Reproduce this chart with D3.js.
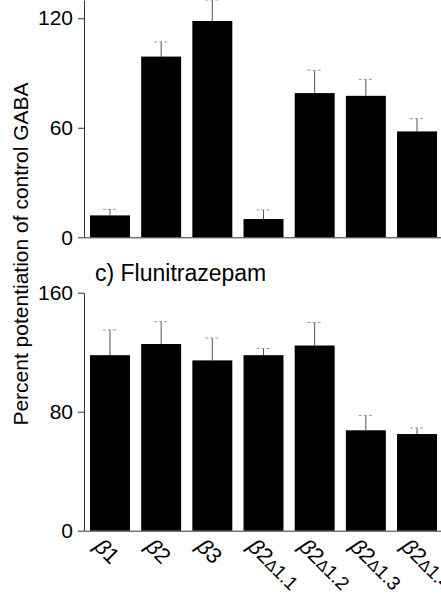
<!DOCTYPE html>
<html>
<head>
<meta charset="utf-8">
<title>Percent potentiation of control GABA</title>
<script src="https://cdn.jsdelivr.net/npm/d3@7"></script>
<style>
    body { margin: 0; background: #fff; }
    svg { display: block; font-family: "Liberation Sans", Arial, Helvetica, sans-serif; }
    .axis path, .axis line { stroke: #333; }
</style>
</head>
<body>
<div id="chart"></div>
<script>

    // receptor subunits on the x axis
    var subunits = ["β1", "β2", "β3", "β2Δ1.1", "β2Δ1.2", "β2Δ1.3", "β2Δ1.4"];

    // upper panel
    var topMeans = [12, 99, 118.5, 10, 79, 77.5, 58];
    var topErrors = [3.3, 8, 11.5, 5, 12.5, 9, 7];
    var topTicks = [0, 60, 120];

    // c) Flunitrazepam
    var fluMeans = [118, 125.5, 114.5, 118, 124.5, 67.5, 65];
    var fluErrors = [17, 15, 15, 4.5, 15.5, 10, 4];
    var fluTicks = [0, 80, 160];

    var W = 441, H = 594;

    var svg = d3.select("#chart")
        .append("svg")
        .attr("width", W)
        .attr("height", H);

    var x = d3.scaleBand()
        .domain(subunits)
        .range([84, 443])
        .paddingInner(0.219)
        .paddingOuter(0.117);

    function panel(means, errors, ticks, yScale) {
        var g = svg.append("g");

        var rows = subunits.map(function (s, i) {
            return { name: s, mean: means[i], err: errors[i] };
        });

        // error bars (drawn first so the bar covers the lower half)
        g.selectAll(".errline")
            .data(rows)
            .enter()
            .append("line")
            .attr("x1", function (d) { return x(d.name) + x.bandwidth() / 2; })
            .attr("x2", function (d) { return x(d.name) + x.bandwidth() / 2; })
            .attr("y1", function (d) { return yScale(d.mean); })
            .attr("y2", function (d) { return yScale(d.mean + d.err); })
            .attr("stroke", "#555")
            .attr("stroke-width", 1);

        g.selectAll(".errcap")
            .data(rows)
            .enter()
            .append("line")
            .attr("x1", function (d) { return x(d.name) + x.bandwidth() / 2 - 7; })
            .attr("x2", function (d) { return x(d.name) + x.bandwidth() / 2 + 7; })
            .attr("y1", function (d) { return yScale(d.mean + d.err); })
            .attr("y2", function (d) { return yScale(d.mean + d.err); })
            .attr("stroke", "#999")
            .attr("stroke-width", 1)
            .attr("stroke-dasharray", "3,2");

        g.selectAll(".bar")
            .data(rows)
            .enter()
            .append("rect")
            .attr("x", function (d) { return x(d.name); })
            .attr("width", x.bandwidth())
            .attr("y", function (d) { return yScale(d.mean); })
            .attr("height", function (d) { return yScale(0) - yScale(d.mean); })
            .attr("fill", "#000");

        // y axis
        g.append("g")
            .attr("class", "axis")
            .attr("transform", "translate(84,0)")
            .call(d3.axisLeft(yScale)
                .tickValues(ticks)
                .tickSize(6)
                .tickSizeOuter(0)
                .tickPadding(5))
            .call(function (a) {
                a.selectAll("text")
                    .style("font-size", "21px")
                    .style("font-family", "inherit")
                    .attr("fill", "#000");
            });

        // baseline
        g.append("g")
            .attr("class", "axis")
            .attr("transform", "translate(0," + yScale(0) + ")")
            .call(d3.axisBottom(x).tickSize(0).tickSizeOuter(0).tickFormat(""));

        return g;
    }

    var yTop = d3.scaleLinear().domain([0, 130]).range([237.3, 0]);
    var yFlu = d3.scaleLinear().domain([0, 160]).range([530.7, 292.7]);

    panel(topMeans, topErrors, topTicks, yTop);
    panel(fluMeans, fluErrors, fluTicks, yFlu);

    // panel title
    svg.append("text")
        .attr("x", 95)
        .attr("y", 281)
        .style("font-size", "23px")
        .text("c) Flunitrazepam");

    // shared y label
    svg.append("text")
        .attr("transform", "translate(28,254) rotate(-90)")
        .attr("text-anchor", "middle")
        .style("font-size", "21px")
        .text("Percent potentiation of control GABA");

    // rotated subunit labels: italic beta, smaller delta and suffix
    var labels = svg.append("g")
        .selectAll("text")
        .data(subunits)
        .enter()
        .append("text")
        .attr("transform", function (d) {
            var cx = x(d) + x.bandwidth() / 2 - 17;
            return "translate(" + cx + "," + (yFlu(0) + 17) + ") rotate(45)";
        })
        .style("font-size", "22px");

    labels.append("tspan")
        .style("font-style", "italic")
        .text("β");
    labels.append("tspan")
        .text(function (d) { return d.charAt(1); });
    labels.append("tspan")
        .style("font-size", "16px")
        .text(function (d) { return d.indexOf("Δ") > 0 ? "Δ" : ""; });
    labels.append("tspan")
        .style("font-size", "19px")
        .text(function (d) { return d.indexOf("Δ") > 0 ? d.slice(d.indexOf("Δ") + 1) : ""; });

</script>
</body>
</html>
